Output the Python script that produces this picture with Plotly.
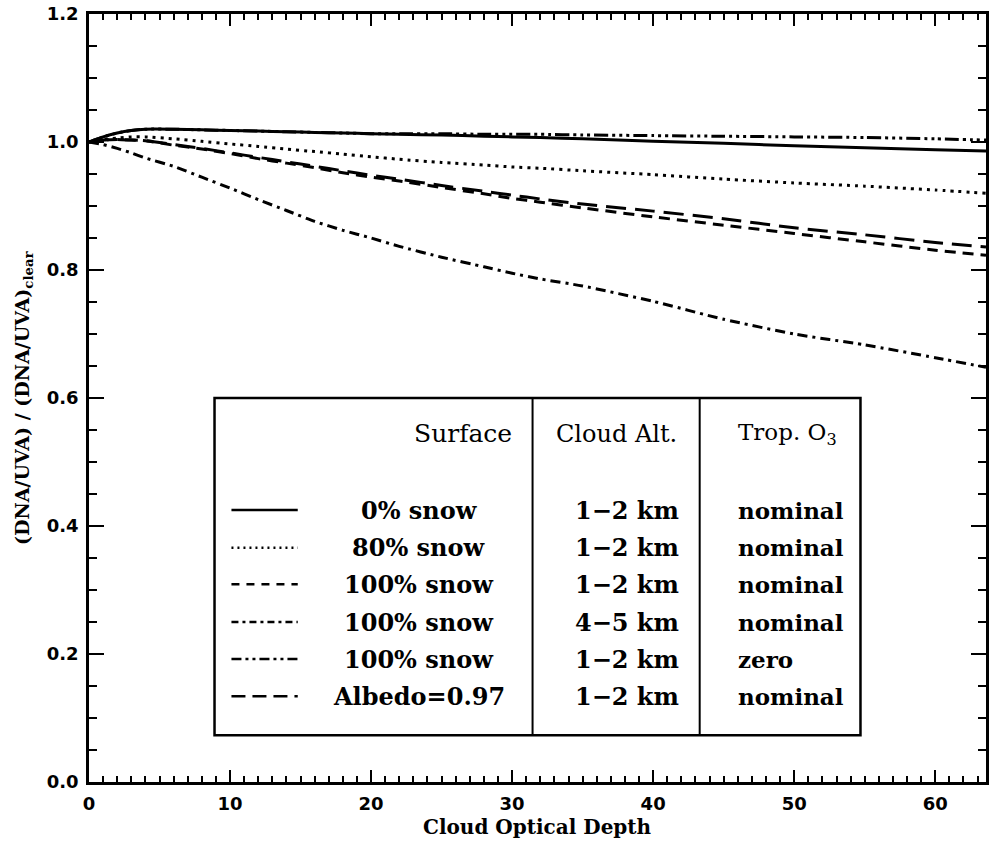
import plotly.graph_objects as go

# Cloud optical depth grid
tau = [0, 1, 2, 3, 4, 6, 8, 10, 12, 14, 16, 18, 20, 22, 25, 28, 30, 32, 35, 40, 45, 50, 55, 60, 63.6]

snow0_12_nom = [1.000, 1.008, 1.014, 1.018, 1.020, 1.020, 1.019, 1.018, 1.017, 1.016, 1.015, 1.014, 1.013,
                1.012, 1.011, 1.009, 1.008, 1.007, 1.005, 1.001, 0.998, 0.994, 0.991, 0.988, 0.986]
snow80_12_nom = [1.000, 1.004, 1.006, 1.008, 1.008, 1.005, 1.001, 0.997, 0.993, 0.989, 0.985, 0.981, 0.977,
                 0.973, 0.968, 0.964, 0.961, 0.959, 0.955, 0.949, 0.942, 0.936, 0.931, 0.925, 0.920]
snow100_12_nom = [1.000, 1.003, 1.004, 1.003, 1.002, 0.995, 0.989, 0.982, 0.974, 0.967, 0.960, 0.952, 0.945,
                  0.939, 0.929, 0.919, 0.912, 0.906, 0.897, 0.883, 0.870, 0.857, 0.844, 0.831, 0.823]
snow100_45_nom = [1.000, 0.996, 0.990, 0.983, 0.975, 0.962, 0.945, 0.928, 0.910, 0.893, 0.876, 0.862, 0.850,
                  0.837, 0.820, 0.805, 0.795, 0.786, 0.775, 0.751, 0.723, 0.700, 0.683, 0.663, 0.648]
snow100_12_zero = [1.000, 1.008, 1.014, 1.018, 1.020, 1.020, 1.019, 1.018, 1.017, 1.016, 1.015, 1.014, 1.013,
                   1.013, 1.013, 1.012, 1.012, 1.012, 1.011, 1.010, 1.009, 1.008, 1.007, 1.005, 1.003]
albedo97_12_nom = [1.000, 1.003, 1.004, 1.003, 1.002, 0.996, 0.990, 0.983, 0.976, 0.969, 0.962, 0.955, 0.948,
                   0.942, 0.932, 0.923, 0.917, 0.911, 0.903, 0.892, 0.880, 0.866, 0.855, 0.843, 0.836]

surface_labels = ["0% snow", "80% snow", "100% snow", "100% snow", "100% snow", "Albedo=0.97"]
cloud_alt_labels = ["1\u22122 km", "1\u22122 km", "1\u22122 km", "4\u22125 km", "1\u22122 km", "1\u22122 km"]
o3_labels = ["nominal", "nominal", "nominal", "nominal", "zero", "nominal"]
series = [snow0_12_nom, snow80_12_nom, snow100_12_nom, snow100_45_nom, snow100_12_zero, albedo97_12_nom]
dashes = ["solid", "3px,5px", "11px,7px", "10px,5px,3px,5px", "14px,4px,3px,4px,3px,4px,3px,4px", "20px,9px"]
legend_dashes = ["solid", "2px,4px", "8px,7px", "7px,4px,3px,4px", "10px,4px,3px,4px,3px,4px", "14px,7px"]

x_ticks = [0, 10, 20, 30, 40, 50, 60]
y_ticks = [0.0, 0.2, 0.4, 0.6, 0.8, 1.0, 1.2]

fig = go.Figure()
for ys, d in zip(series, dashes):
    fig.add_trace(go.Scatter(x=tau, y=ys, mode="lines",
                             line=dict(color="black", width=3, dash=d, shape="spline", smoothing=0.6),
                             showlegend=False, hoverinfo="skip"))

# legend table (data coordinates)
box_x0, box_x1, box_y0, box_y1 = 8.9, 54.7, 0.073, 0.600
div1, div2 = 31.45, 43.3
row_y = [0.425, 0.366, 0.309, 0.250, 0.192, 0.134]
header_y = 0.544
samp_x0, samp_x1 = 10.1, 14.8

shapes = [
    dict(type="rect", xref="x", yref="y", x0=box_x0, x1=box_x1, y0=box_y0, y1=box_y1,
         line=dict(color="black", width=2.5), fillcolor="white", layer="above"),
    dict(type="line", xref="x", yref="y", x0=div1, x1=div1, y0=box_y0, y1=box_y1,
         line=dict(color="black", width=2)),
    dict(type="line", xref="x", yref="y", x0=div2, x1=div2, y0=box_y0, y1=box_y1,
         line=dict(color="black", width=2)),
]
for yy, d in zip(row_y, legend_dashes):
    shapes.append(dict(type="line", xref="x", yref="y", x0=samp_x0, x1=samp_x1, y0=yy, y1=yy,
                       line=dict(color="black", width=2.5, dash=d)))

serif = "DejaVu Serif"
ann = []
ann.append(dict(x=div1 - 1.3, y=header_y, xref="x", yref="y", text="Surface", showarrow=False,
                xanchor="right", yanchor="middle", font=dict(family=serif, size=25, color="black")))
ann.append(dict(x=(div1 + div2) / 2, y=header_y, xref="x", yref="y", text="Cloud Alt.", showarrow=False,
                xanchor="center", yanchor="middle", font=dict(family=serif, size=24, color="black")))
ann.append(dict(x=45.9, y=header_y, xref="x", yref="y", text="Trop. O<sub>3</sub>", showarrow=False,
                xanchor="left", yanchor="middle", font=dict(family=serif, size=23, color="black")))
for yy, s, c, o in zip(row_y, surface_labels, cloud_alt_labels, o3_labels):
    ann.append(dict(x=23.4, y=yy, xref="x", yref="y", text=s, showarrow=False, xanchor="center",
                    yanchor="middle", font=dict(family=serif, size=24, color="black", weight="bold")))
    ann.append(dict(x=42.0, y=yy, xref="x", yref="y", text=c, showarrow=False, xanchor="right",
                    yanchor="middle", font=dict(family=serif, size=24, color="black", weight="bold")))
    ann.append(dict(x=45.9, y=yy, xref="x", yref="y", text=o, showarrow=False, xanchor="left",
                    yanchor="middle", font=dict(family=serif, size=23, color="black", weight="bold")))

# axis titles
ann.append(dict(x=0.5, y=0.0, xref="paper", yref="paper", yshift=-31, text="Cloud Optical Depth",
                showarrow=False, xanchor="center", yanchor="top",
                font=dict(family=serif, size=20, color="black", weight="bold")))
ann.append(dict(x=0, y=0.5, xref="paper", yref="paper", xshift=-66,
                text="(DNA/UVA) / (DNA/UVA)<sub>clear</sub>", textangle=-90,
                showarrow=False, xanchor="center", yanchor="middle",
                font=dict(family=serif, size=19, color="black", weight="bold")))

tickfont = dict(family="DejaVu Sans", size=18, color="black", weight="bold")
fig.update_layout(
    width=990, height=842,
    margin=dict(l=89, r=1, t=14, b=60),
    paper_bgcolor="white", plot_bgcolor="white",
    shapes=shapes, annotations=ann,
    xaxis=dict(range=[0, 63.6], tickvals=x_ticks, ticktext=[str(v) for v in x_ticks],
               ticks="inside", ticklen=12, tickwidth=2, tickcolor="black",
               minor=dict(dtick=1, ticks="inside", ticklen=6, tickwidth=2, tickcolor="black"),
               showline=True, linecolor="black", linewidth=2.5, mirror="ticks",
               showgrid=False, zeroline=False, tickfont=tickfont, ticklabelstandoff=4),
    yaxis=dict(range=[0, 1.2], tickvals=y_ticks, ticktext=[f"{v:.1f}" for v in y_ticks],
               ticks="inside", ticklen=15, tickwidth=2, tickcolor="black",
               minor=dict(dtick=0.05, ticks="inside", ticklen=8, tickwidth=2, tickcolor="black"),
               showline=True, linecolor="black", linewidth=2.5, mirror="ticks",
               showgrid=False, zeroline=False, tickfont=tickfont, ticklabelstandoff=4),
)

fig.write_html("out.html")
